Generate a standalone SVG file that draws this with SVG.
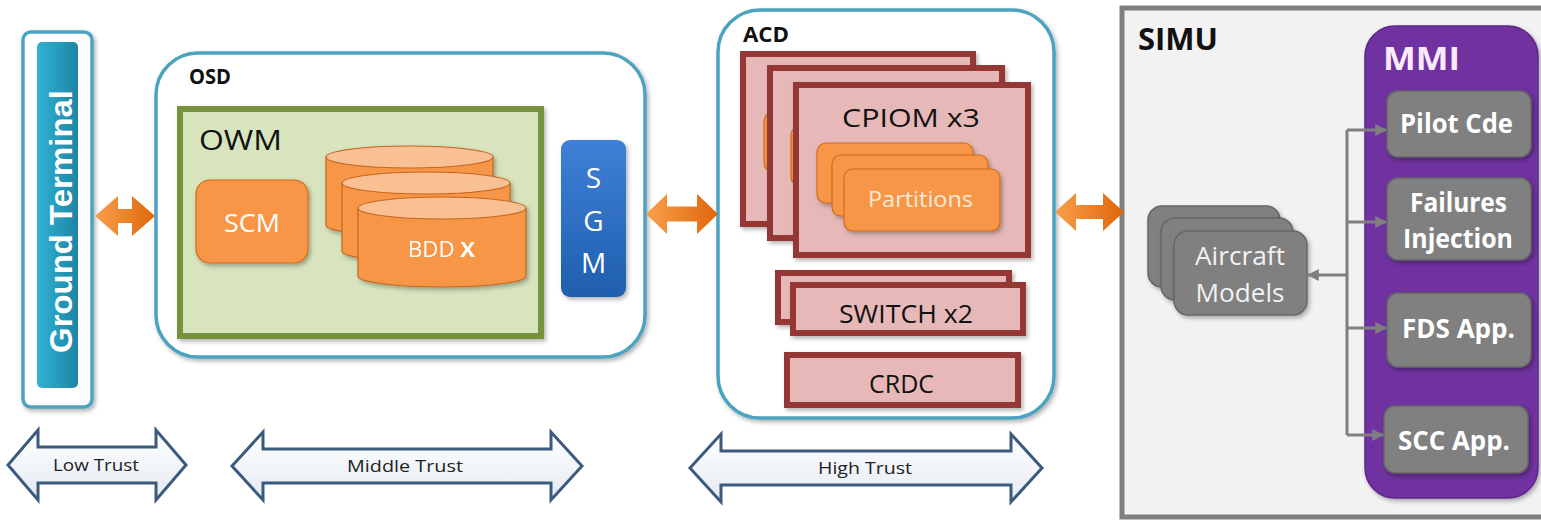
<svg xmlns="http://www.w3.org/2000/svg" width="1541" height="520" viewBox="0 0 1541 520">
<defs>
<style>
.lbl{font-family:"Open Sans","Liberation Sans",sans-serif;}
.b{font-weight:bold;}
.dark{fill:#111;}
.wh{fill:#fff;}
.cont{fill:#fff;stroke:#4ba3bf;stroke-width:3.5;}
.red{fill:#e6b9b8;stroke:#953735;stroke-width:6;}
.part{fill:#f79646;stroke:#d2691e;stroke-width:1.2;}
.gray{fill:#808080;stroke:#666;stroke-width:1.5;}
.trust{fill:url(#tg);stroke:#3b5a7e;stroke-width:3;stroke-linejoin:miter;}
.conn{fill:none;stroke:#7f7f7f;stroke-width:3;}
.cyl{fill:#f79646;stroke:#c6651f;stroke-width:1.2;}
.cyltop{fill:#f9c093;stroke:#c6651f;stroke-width:1.2;}
</style>
<linearGradient id="og" x1="0" y1="0" x2="1" y2="0">
<stop offset="0" stop-color="#f8a04c"/><stop offset="1" stop-color="#e0660a"/>
</linearGradient>
<linearGradient id="tealg" x1="0" y1="0" x2="1" y2="0">
<stop offset="0" stop-color="#30b2d4"/><stop offset="1" stop-color="#1d85a5"/>
</linearGradient>
<linearGradient id="bg" x1="0" y1="0" x2="0" y2="1">
<stop offset="0" stop-color="#3f80d6"/><stop offset="1" stop-color="#1f5fae"/>
</linearGradient>
<linearGradient id="tg" x1="0" y1="0" x2="0" y2="1">
<stop offset="0" stop-color="#ffffff"/><stop offset="1" stop-color="#e4eaf2"/>
</linearGradient>
<filter id="sh" x="-10%" y="-10%" width="130%" height="130%">
<feDropShadow dx="2" dy="2.5" stdDeviation="2" flood-color="#000" flood-opacity="0.3"/>
</filter>
<marker id="ah" viewBox="0 0 10 10" refX="9" refY="5" markerWidth="4" markerHeight="4" orient="auto-start-reverse" markerUnits="strokeWidth">
<path d="M0,0 L10,5 L0,10 z" fill="#7f7f7f"/>
</marker>
</defs>
<rect width="1541" height="520" fill="#fff"/>

<!-- Ground Terminal -->
<g id="ground-terminal">
<rect x="23" y="32" width="69" height="375" rx="8" class="cont" filter="url(#sh)"/>
<rect x="37" y="42" width="41" height="346" rx="5" fill="url(#tealg)"/>
<text class="wh" transform="translate(72,221.5) rotate(-90)" text-anchor="middle" font-weight="bold" font-size="32" textLength="263" lengthAdjust="spacingAndGlyphs" style="font-family:'Liberation Sans',Arial,sans-serif">Ground Terminal</text>
</g>

<!-- OSD -->
<g id="osd">
<rect x="156" y="53" width="489" height="304" rx="42" class="cont" filter="url(#sh)"/>
<text x="189" y="84" class="lbl b dark" font-size="21" textLength="42" lengthAdjust="spacingAndGlyphs">OSD</text>
</g>
<g id="owm">
<rect x="180" y="109" width="361" height="227" fill="#d7e4bd" stroke="#76923c" stroke-width="6" filter="url(#sh)"/>
<text x="199" y="150" class="lbl dark" font-size="28" textLength="83" lengthAdjust="spacingAndGlyphs">OWM</text>
</g>
<g id="scm">
<rect x="196" y="180" width="112" height="83" rx="14" fill="#f79646" stroke="#d2691e" stroke-width="1.2" filter="url(#sh)"/>
<text x="252" y="232" class="lbl wh" font-size="25" text-anchor="middle" textLength="56" lengthAdjust="spacingAndGlyphs">SCM</text>
</g>
<g id="bdd" filter="url(#sh)">
<path class="cyl" d="M326,157 V225 A83.5,11 0 0 0 493,225 V157"/>
<ellipse class="cyltop" cx="409.5" cy="157" rx="83.5" ry="11"/>
<path class="cyl" d="M342,183 V251 A84,11 0 0 0 510,251 V183"/>
<ellipse class="cyltop" cx="426" cy="183" rx="84" ry="11"/>
<path class="cyl" d="M358,208 V276 A84,11 0 0 0 526,276 V208"/>
<ellipse class="cyltop" cx="442" cy="208" rx="84" ry="11"/>
<text x="408" y="257" class="lbl wh" font-size="21" textLength="67" lengthAdjust="spacingAndGlyphs">BDD <tspan font-weight="bold">X</tspan></text>
</g>
<g id="sgm">
<rect x="561" y="140" width="65" height="157" rx="9" fill="url(#bg)" filter="url(#sh)"/>
<text x="593.5" y="188" class="lbl wh" font-size="28" text-anchor="middle">S</text>
<text x="593.5" y="231" class="lbl wh" font-size="28" text-anchor="middle">G</text>
<text x="593.5" y="273" class="lbl wh" font-size="28" text-anchor="middle">M</text>
</g>

<!-- ACD -->
<g id="acd">
<rect x="718" y="10" width="336" height="408" rx="42" class="cont" filter="url(#sh)"/>
<text x="743" y="42" class="lbl b dark" font-size="21" textLength="46" lengthAdjust="spacingAndGlyphs">ACD</text>
</g>
<g id="cpiom">
<rect x="743" y="54" width="230" height="170" class="red" filter="url(#sh)"/>
<rect x="764" y="112" width="156" height="60" rx="9" class="part"/>
<rect x="770" y="68" width="232" height="170" class="red" filter="url(#sh)"/>
<rect x="791" y="126" width="156" height="60" rx="9" class="part"/>
<rect x="796" y="85" width="232" height="170" class="red" filter="url(#sh)"/>
<text x="911" y="127" class="lbl dark" font-size="26" text-anchor="middle" textLength="138" lengthAdjust="spacingAndGlyphs">CPIOM x3</text>
<g filter="url(#sh)">
<rect x="817" y="143" width="156" height="60" rx="9" class="part"/>
<rect x="832" y="155" width="156" height="61" rx="9" class="part"/>
<rect x="844" y="169" width="156" height="62" rx="9" class="part"/>
</g>
<text x="920.5" y="207" font-size="21" text-anchor="middle" class="lbl" fill="#fde9d9" textLength="105" lengthAdjust="spacingAndGlyphs">Partitions</text>
</g>
<g id="switch">
<rect x="778" y="273" width="231" height="49" class="red" filter="url(#sh)"/>
<rect x="793" y="285" width="230" height="48" class="red" filter="url(#sh)"/>
<text x="906" y="323" class="lbl dark" font-size="25" text-anchor="middle" textLength="134" lengthAdjust="spacingAndGlyphs">SWITCH x2</text>
</g>
<g id="crdc">
<rect x="787" y="355" width="231" height="50" class="red" filter="url(#sh)"/>
<text x="901.5" y="393" class="lbl dark" font-size="25" text-anchor="middle" textLength="65" lengthAdjust="spacingAndGlyphs">CRDC</text>
</g>

<!-- SIMU -->
<g id="simu">
<rect x="1122" y="8" width="430" height="509" fill="#f2f2f2" stroke="#7f7f7f" stroke-width="5"/>
<text x="1138" y="50" class="lbl b dark" font-size="30" textLength="80" lengthAdjust="spacingAndGlyphs">SIMU</text>
</g>
<g id="mmi">
<rect x="1365" y="26" width="173" height="472" rx="30" fill="#7030a0" stroke="#5e2888" stroke-width="1.5" filter="url(#sh)"/>
<text x="1383" y="70" class="lbl b" fill="#fbeafb" font-size="32" textLength="77" lengthAdjust="spacingAndGlyphs">MMI</text>
</g>
<g id="pilot-cde">
<rect x="1387" y="91" width="144" height="66" rx="11" class="gray" filter="url(#sh)"/>
<text x="1456.5" y="133" class="lbl b wh" font-size="26" text-anchor="middle" textLength="113" lengthAdjust="spacingAndGlyphs">Pilot Cde</text>
</g>
<g id="failures-injection">
<rect x="1387" y="178" width="144" height="82" rx="11" class="gray" filter="url(#sh)"/>
<text x="1458.5" y="212" class="lbl b wh" font-size="26" text-anchor="middle" textLength="97" lengthAdjust="spacingAndGlyphs">Failures</text>
<text x="1458" y="248" class="lbl b wh" font-size="26" text-anchor="middle" textLength="110" lengthAdjust="spacingAndGlyphs">Injection</text>
</g>
<g id="fds-app">
<rect x="1387" y="293" width="144" height="74" rx="11" class="gray" filter="url(#sh)"/>
<text x="1458.5" y="338" class="lbl b wh" font-size="26" text-anchor="middle" textLength="113" lengthAdjust="spacingAndGlyphs">FDS App.</text>
</g>
<g id="scc-app">
<rect x="1384" y="406" width="144" height="67" rx="11" class="gray" filter="url(#sh)"/>
<text x="1454" y="450" class="lbl b wh" font-size="26" text-anchor="middle" textLength="112" lengthAdjust="spacingAndGlyphs">SCC App.</text>
</g>
<g id="aircraft-models">
<rect x="1148" y="206" width="132" height="81" rx="14" class="gray" filter="url(#sh)"/>
<rect x="1161" y="218" width="132" height="82" rx="14" class="gray" filter="url(#sh)"/>
<rect x="1174" y="231" width="133" height="84" rx="14" class="gray" filter="url(#sh)"/>
<text x="1240" y="265" class="lbl" fill="#f2f2f2" font-size="26" text-anchor="middle" textLength="90" lengthAdjust="spacingAndGlyphs">Aircraft</text>
<text x="1240" y="302" class="lbl" fill="#f2f2f2" font-size="26" text-anchor="middle" textLength="89" lengthAdjust="spacingAndGlyphs">Models</text>
</g>

<!-- connectors -->
<g id="connectors">
<path d="M95,216 L118,196 V209 H132 V196 L155,216 L132,236 V223 H118 V236 Z" fill="url(#og)"/>
<path d="M646,214 L667,194 V206.5 H697 V194 L718,214 L697,234 V221.5 H667 V234 Z" fill="url(#og)"/>
<path d="M1055,212 L1076,193 V205 H1103 V193 L1124,212 L1103,231 V219 H1076 V231 Z" fill="url(#og)"/>
<line x1="1347" y1="130" x2="1347" y2="435" class="conn"/>
<line x1="1347" y1="130" x2="1386" y2="130" class="conn" marker-end="url(#ah)"/>
<line x1="1347" y1="222" x2="1386" y2="222" class="conn" marker-end="url(#ah)"/>
<line x1="1347" y1="328" x2="1386" y2="328" class="conn" marker-end="url(#ah)"/>
<line x1="1347" y1="435" x2="1383" y2="435" class="conn" marker-end="url(#ah)"/>
<line x1="1347" y1="275" x2="1308" y2="275" class="conn" marker-end="url(#ah)"/>
</g>

<!-- trust arrows -->
<g id="low-trust">
<path class="trust" d="M8,465 L38,430 V447 H156 V430 L186,465 L156,500 V483 H38 V500 Z"/>
<text x="96" y="471" class="lbl" fill="#222" font-size="17" text-anchor="middle" textLength="86" lengthAdjust="spacingAndGlyphs">Low Trust</text>
</g>
<g id="middle-trust">
<path class="trust" d="M232,466 L263,432 V449 H551 V432 L582,466 L551,500 V483 H263 V500 Z"/>
<text x="405" y="472" class="lbl" fill="#222" font-size="17" text-anchor="middle" textLength="116" lengthAdjust="spacingAndGlyphs">Middle Trust</text>
</g>
<g id="high-trust">
<path class="trust" d="M690,468 L721,434 V451 H1011 V434 L1042,468 L1011,502 V485 H721 V502 Z"/>
<text x="865" y="474" class="lbl" fill="#222" font-size="17" text-anchor="middle" textLength="94" lengthAdjust="spacingAndGlyphs">High Trust</text>
</g>
</svg>
